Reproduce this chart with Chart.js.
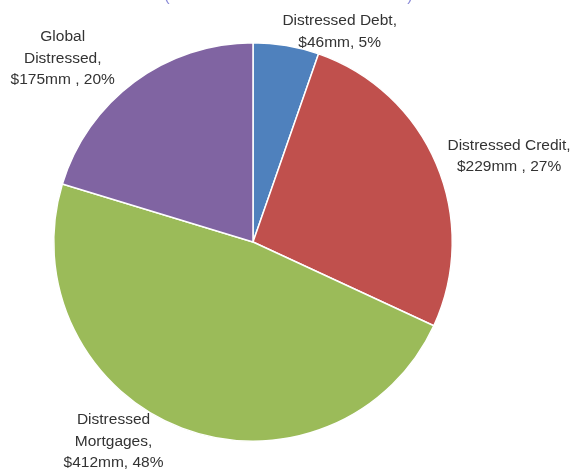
<!DOCTYPE html>
<html>
<head>
<meta charset="utf-8">
<script src="https://cdn.jsdelivr.net/npm/chart.js@4"></script>
<style>
html,body{margin:0;padding:0;background:#fff;}
#wrap{width:583px;height:470px;position:relative;}
</style>
</head>
<body>
<div id="wrap"><canvas id="c" width="583" height="470"></canvas></div>
<script>
const categories = ["Distressed Debt", "Distressed Credit", "Distressed Mortgages", "Global Distressed"];
const values = [46, 229, 412, 175];
const percents = ["5%", "27%", "48%", "20%"];
const labelLines = [
  ["Distressed Debt,", "$46mm, 5%"],
  ["Distressed Credit,", "$229mm , 27%"],
  ["Distressed", "Mortgages,", "$412mm, 48%"],
  ["Global", "Distressed,", "$175mm , 20%"]
];
const colors = ["#4F81BD", "#C0504D", "#9BBB59", "#8064A2"];
// label anchors relative to pie centre, in units of radius
const labelAnchors = [[0.435, -1.055], [1.285, -0.43], [-0.70, 1.0], [-0.955, -0.92]];

const labelPlugin = {
  id: 'pieLabels',
  afterDatasetsDraw(chart) {
    const ctx = chart.ctx;
    const meta = chart.getDatasetMeta(0);
    const arc = meta.data[0];
    const cx = arc.x, cy = arc.y, r = arc.outerRadius;
    ctx.save();
    ctx.font = '15.5px "Liberation Sans", Arial, sans-serif';
    ctx.fillStyle = '#333333';
    ctx.textAlign = 'center';
    ctx.textBaseline = 'middle';
    const lh = 21.5;
    labelLines.forEach((lines, i) => {
      const x = cx + labelAnchors[i][0] * r;
      const y = cy + labelAnchors[i][1] * r;
      const y0 = y - (lines.length - 1) * lh / 2;
      lines.forEach((t, j) => ctx.fillText(t, x, y0 + j * lh));
    });
    // cut-off title remnants at top
    ctx.fillStyle = '#8C8CD8';
    ctx.font = '16px "Liberation Sans", Arial, sans-serif';
    ctx.textBaseline = 'alphabetic';
    ctx.fillText('(', 167, 1);
    ctx.fillText(')', 410, 1);
    ctx.restore();
  }
};

new Chart(document.getElementById('c'), {
  type: 'pie',
  data: {
    labels: categories,
    datasets: [{
      data: values,
      backgroundColor: colors,
      borderColor: '#ffffff',
      borderWidth: 1.5
    }]
  },
  options: {
    responsive: false,
    animation: false,
    layout: { padding: { top: 42, bottom: 28, left: 53, right: 130 } },
    plugins: { legend: { display: false }, tooltip: { enabled: false }, title: { display: false } }
  },
  plugins: [labelPlugin]
});
</script>
</body>
</html>
